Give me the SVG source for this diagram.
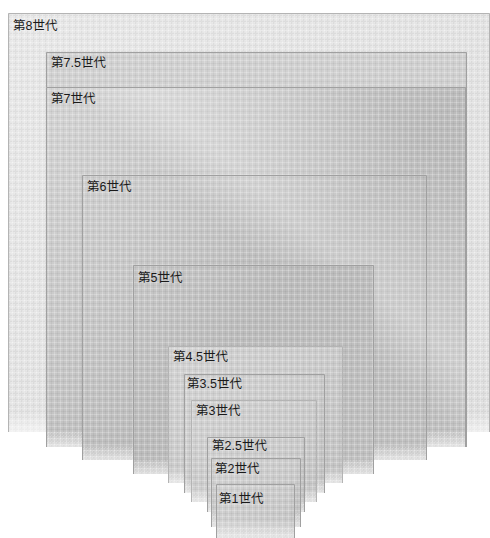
<svg xmlns="http://www.w3.org/2000/svg" width="490" height="538" viewBox="0 0 490 538">
<defs>
<pattern id="plaid" width="6" height="6" patternUnits="userSpaceOnUse">
<rect x="0" y="0" width="6" height="1" fill="#ffffff" opacity="0.22"/>
<rect x="0" y="0" width="1" height="6" fill="#ffffff" opacity="0.22"/>
<rect x="3" y="0" width="1" height="6" fill="#000000" opacity="0.04"/>
<rect x="0" y="3" width="6" height="1" fill="#000000" opacity="0.04"/>
</pattern>
<pattern id="speck" width="3" height="3" patternUnits="userSpaceOnUse">
<rect x="0" y="0" width="1" height="1" fill="#ffffff" opacity="0.7"/>
<rect x="2" y="1" width="1" height="1" fill="#ffffff" opacity="0.5"/>
</pattern>
<linearGradient id="fade" x1="0" y1="0" x2="0" y2="1">
<stop offset="0" stop-color="#ffffff" stop-opacity="0"/>
<stop offset="1" stop-color="#ffffff" stop-opacity="0.55"/>
</linearGradient>
<linearGradient id="g8" x1="0" y1="0" x2="1" y2="1">
<stop offset="0" stop-color="#e8e8e8"/>
<stop offset="1" stop-color="#dedede"/>
</linearGradient>
<linearGradient id="g75" x1="0" y1="0" x2="1" y2="0">
<stop offset="0" stop-color="#d2d2d2"/>
<stop offset="1" stop-color="#d0d0d0"/>
</linearGradient>
<linearGradient id="gBig" gradientUnits="userSpaceOnUse" x1="60" y1="90" x2="460" y2="460">
<stop offset="0" stop-color="#d4d4d4"/>
<stop offset="0.3" stop-color="#c9c9c9"/>
<stop offset="0.55" stop-color="#bcbcbc"/>
<stop offset="1" stop-color="#c2c2c2"/>
</linearGradient>
<linearGradient id="gSmall" x1="0" y1="0" x2="1" y2="1">
<stop offset="0" stop-color="#d3d3d3"/>
<stop offset="1" stop-color="#c4c4c4"/>
</linearGradient>
<linearGradient id="shine" gradientUnits="userSpaceOnUse" x1="330" y1="60" x2="120" y2="300">
<stop offset="0" stop-color="#ffffff" stop-opacity="0"/>
<stop offset="0.45" stop-color="#ffffff" stop-opacity="0.24"/>
<stop offset="0.62" stop-color="#ffffff" stop-opacity="0"/>
</linearGradient>
</defs>
<style>
.edge{fill:none;stroke:#a0a0a0;stroke-width:1}
.edgeS{fill:none;stroke:#b4b4b4;stroke-width:1}
.tex{fill:url(#plaid)}
.fd{fill:url(#fade)}
.sp{fill:url(#speck);opacity:0.35}
text{font-family:"Liberation Sans","Noto Sans CJK JP",sans-serif;font-size:12.5px;fill:#1a1a1a}
</style>

<g id="gen8">
<rect x="8" y="13" width="482" height="419" fill="url(#g8)"/>
<rect x="8" y="13" width="482" height="419" class="tex"/>
<rect x="8" y="13" width="482" height="419" class="sp"/>
<rect x="8" y="412" width="482" height="20" class="fd"/>
<path d="M8.5,432V13.5H489.5V432" class="edgeS"/>
<text x="13" y="30">第8世代</text>
</g>

<g id="gen7-5">
<rect x="46" y="52" width="421" height="395" fill="url(#g75)"/>
<rect x="46" y="52" width="421" height="395" class="tex"/>
<path d="M46.5,447V52.5H466.5V447" class="edge"/>
<text x="51" y="67">第7.5世代</text>
</g>

<g id="gen7">
<rect x="46" y="87" width="420" height="360" fill="url(#gBig)"/>
<rect x="46" y="87" width="420" height="360" class="tex"/>
<rect x="46" y="87" width="420" height="360" fill="url(#shine)"/>
<rect x="46" y="430" width="420" height="17" class="fd"/>
<rect x="46" y="432" width="420" height="15" class="sp"/>
<path d="M46.5,447V87.5H465.5V447" class="edge"/>
<text x="51" y="103">第7世代</text>
</g>

<g id="gen6">
<rect x="82" y="175" width="345" height="285" fill="url(#gBig)"/>
<rect x="82" y="175" width="345" height="285" class="tex"/>
<rect x="82" y="175" width="345" height="285" fill="url(#shine)"/>
<rect x="82" y="444" width="345" height="16" class="fd"/>
<rect x="82" y="447" width="345" height="13" class="sp"/>
<path d="M82.5,460V175.5H426.5V460" class="edge"/>
<text x="87" y="191">第6世代</text>
</g>

<g id="gen5">
<rect x="133" y="265" width="241" height="209" fill="url(#gBig)"/>
<rect x="133" y="265" width="241" height="209" class="tex"/>
<rect x="133" y="458" width="241" height="16" class="fd"/>
<rect x="133" y="460" width="241" height="14" class="sp"/>
<path d="M133.5,474V265.5H373.5V474" class="edge"/>
<text x="138" y="282">第5世代</text>
</g>

<g id="gen4-5">
<rect x="168" y="346" width="175" height="137" fill="url(#gSmall)"/>
<rect x="168" y="346" width="175" height="137" class="tex"/>
<rect x="168" y="468" width="175" height="15" class="fd"/>
<rect x="168" y="474" width="175" height="9" class="sp"/>
<path d="M168.5,483V346.5H342.5V483" class="edgeS"/>
<text x="173" y="361">第4.5世代</text>
</g>

<g id="gen3-5">
<rect x="184" y="374" width="141" height="119" fill="url(#gSmall)"/>
<rect x="184" y="374" width="141" height="119" class="tex"/>
<rect x="184" y="478" width="141" height="15" class="fd"/>
<rect x="184" y="483" width="141" height="10" class="sp"/>
<path d="M184.5,493V374.5H324.5V493" class="edge"/>
<text x="187" y="388">第3.5世代</text>
</g>

<g id="gen3">
<rect x="191" y="400" width="126" height="102" fill="url(#gSmall)"/>
<rect x="191" y="400" width="126" height="102" class="tex"/>
<rect x="191" y="487" width="126" height="15" class="fd"/>
<rect x="191" y="493" width="126" height="9" class="sp"/>
<path d="M191.5,502V400.5H316.5V502" class="edgeS"/>
<text x="196" y="415">第3世代</text>
</g>

<g id="gen2-5">
<rect x="207" y="437" width="98" height="75" fill="url(#gSmall)"/>
<rect x="207" y="437" width="98" height="75" class="tex"/>
<rect x="207" y="497" width="98" height="15" class="fd"/>
<rect x="207" y="502" width="98" height="10" class="sp"/>
<path d="M207.5,512V437.5H304.5V512" class="edge"/>
<text x="212" y="450">第2.5世代</text>
</g>

<g id="gen2">
<rect x="211" y="458" width="90" height="69" fill="url(#gSmall)"/>
<rect x="211" y="458" width="90" height="69" class="tex"/>
<rect x="211" y="510" width="90" height="17" class="fd"/>
<rect x="211" y="512" width="90" height="15" class="sp"/>
<path d="M211.5,527V458.5H300.5V527" class="edge"/>
<text x="215" y="473">第2世代</text>
</g>

<g id="gen1">
<rect x="216" y="484" width="79" height="54" fill="url(#gSmall)"/>
<rect x="216" y="484" width="79" height="54" class="tex"/>
<rect x="216" y="518" width="79" height="20" class="fd"/>
<rect x="216" y="527" width="79" height="11" class="sp"/>
<path d="M216.5,538V484.5H294.5V538" class="edge"/>
<text x="219" y="503">第1世代</text>
</g>
</svg>
